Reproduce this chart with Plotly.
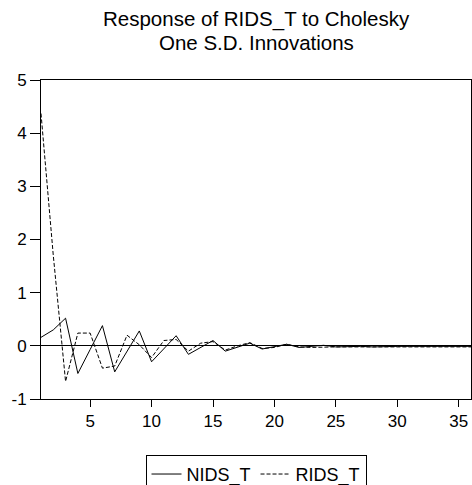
import plotly.graph_objects as go

periods = list(range(1, 37))
nids_t = [0.16, 0.30, 0.52, -0.52, -0.07, 0.38, -0.49, -0.10, 0.28, -0.30,
          -0.05, 0.19, -0.16, -0.03, 0.10, -0.10, -0.02, 0.05, -0.06, -0.02,
          0.03, -0.03, -0.01, 0.01, -0.02, -0.01, -0.01, -0.02, -0.01, -0.01,
          -0.01, -0.01, -0.01, -0.01, -0.01, -0.01]
rids_t = [4.37, 1.70, -0.67, 0.24, 0.24, -0.42, -0.38, 0.20, 0.02, -0.22,
          0.10, 0.12, -0.10, 0.05, 0.08, -0.08, 0.00, 0.06, -0.05, -0.03,
          0.03, -0.02, -0.03, -0.02, -0.02, -0.02, -0.02, -0.02, -0.02, -0.02,
          -0.02, -0.02, -0.02, -0.02, -0.02, -0.02]
x_ticks = [5, 10, 15, 20, 25, 30, 35]
y_ticks = [-1, 0, 1, 2, 3, 4, 5]
y_tick_labels = ["-1", "0", "1", "2", "3", "4", "5"]
title_lines = ["Response of RIDS_T to Cholesky", "One S.D. Innovations"]

fig = go.Figure()
fig.add_trace(go.Scatter(x=periods, y=nids_t, mode="lines", name="NIDS_T",
                         line=dict(color="black", width=1)))
fig.add_trace(go.Scatter(x=periods, y=rids_t, mode="lines", name="RIDS_T",
                         line=dict(color="black", width=1, dash="4px,2px")))

font_family = "Liberation Sans, Arial, sans-serif"
fig.update_layout(
    width=472, height=485,
    margin=dict(l=41, r=1, t=80, b=86, autoexpand=False),
    paper_bgcolor="white", plot_bgcolor="white",
    font=dict(family=font_family, size=17, color="black"),
    showlegend=True,
    legend=dict(orientation="h", x=0.5, xanchor="center", y=-0.175, yanchor="top",
                bordercolor="black", borderwidth=1, bgcolor="white",
                font=dict(size=18), itemwidth=30),
)
for line_text, ypos in zip(title_lines, [1.191, 1.116]):
    fig.add_annotation(text=line_text, xref="paper", yref="paper", x=0.5, y=ypos,
                       xanchor="center", yanchor="middle", showarrow=False,
                       font=dict(size=20.5, color="black"))
fig.update_xaxes(range=[1, 36], tickvals=x_ticks, ticks="outside", ticklen=7,
                 tickcolor="black", showline=True, linecolor="black", linewidth=1,
                 mirror=True, showgrid=False, zeroline=False, automargin=False)
fig.update_yaxes(range=[-1, 5], tickvals=y_ticks, ticktext=y_tick_labels,
                 ticks="outside", ticklen=10,
                 tickcolor="black", showline=True, linecolor="black", linewidth=1,
                 mirror=True, showgrid=False, zeroline=True, zerolinecolor="black",
                 zerolinewidth=1, automargin=False)

fig.write_html(
    "out.html",
    config={"displayModeBar": False},
    post_script="document.body.style.margin='0';document.body.style.overflow='hidden';",
)
